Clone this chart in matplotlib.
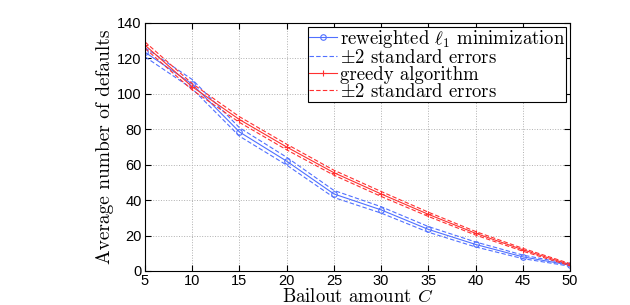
import numpy as np
import matplotlib
matplotlib.use('Agg')
import matplotlib.pyplot as plt

plt.rcParams['mathtext.fontset'] = 'cm'
plt.rcParams['axes.unicode_minus'] = False

# data
C = [5, 10, 15, 20, 25, 30, 35, 40, 45, 50]
reweighted = [123.5, 105.5, 78.5, 62.0, 43.5, 34.5, 23.5, 15.0, 8.0, 3.3]
reweighted_se = [1.3, 1.3, 1.2, 1.1, 1.0, 0.9, 0.8, 0.7, 0.5, 0.3]
greedy = [127.5, 104.0, 85.5, 70.0, 55.5, 43.5, 32.0, 21.3, 12.0, 3.6]
greedy_se = [0.9, 0.9, 0.8, 0.8, 0.7, 0.7, 0.6, 0.5, 0.4, 0.3]

rw = np.array(reweighted)
rw_se = np.array(reweighted_se)
gr = np.array(greedy)
gr_se = np.array(greedy_se)

fig = plt.figure(figsize=(6.3, 3.05), dpi=100)
ax = fig.add_axes([145/630, 1 - 271/305, 425/630, 248/305])

blue = '#5070ff'
red = '#ff3030'
dash = (4, 2)
ax.plot(C, rw, '-o', color=blue, lw=0.8, ms=4, mfc='none', mew=0.8,
        label=r'reweighted $\ell_1$ minimization')
ax.plot(C, rw + 2 * rw_se, '--', dashes=dash, color=blue, lw=0.8, label=r'$\pm$2 standard errors')
ax.plot(C, rw - 2 * rw_se, '--', dashes=dash, color=blue, lw=0.8)
ax.plot(C, gr, '-+', color=red, lw=0.8, ms=5, mew=0.8, label='greedy algorithm')
ax.plot(C, gr + 2 * gr_se, '--', dashes=dash, color=red, lw=0.8, label=r'$\pm$2 standard errors')
ax.plot(C, gr - 2 * gr_se, '--', dashes=dash, color=red, lw=0.8)

ax.set_xlim(5, 50)
ax.set_ylim(0, 140)
ax.set_xticks(range(5, 51, 5))
ax.set_yticks(range(0, 141, 20))
ax.tick_params(direction='in', top=True, right=True, labelsize=10.5, length=4, pad=2.5)
for lab in ax.get_xticklabels() + ax.get_yticklabels():
    lab.set_family('Liberation Sans')
ax.grid(True, linestyle=':', color='#b0b0b0', lw=0.7)

ax.set_xlabel(r'Bailout amount $C$', family='cmr10', fontsize=13.5, labelpad=0)
ax.set_ylabel('Average number of defaults', family='cmr10', fontsize=14, labelpad=2)

leg = ax.legend(loc='upper right', prop={'family': 'cmr10', 'size': 13.5},
                handlelength=1.5, handletextpad=0.15, borderpad=0.05,
                labelspacing=-0.05, borderaxespad=0.2, fancybox=False,
                framealpha=1, edgecolor='black')
leg.get_frame().set_linewidth(0.8)

fig.savefig('out.png', dpi=100)
